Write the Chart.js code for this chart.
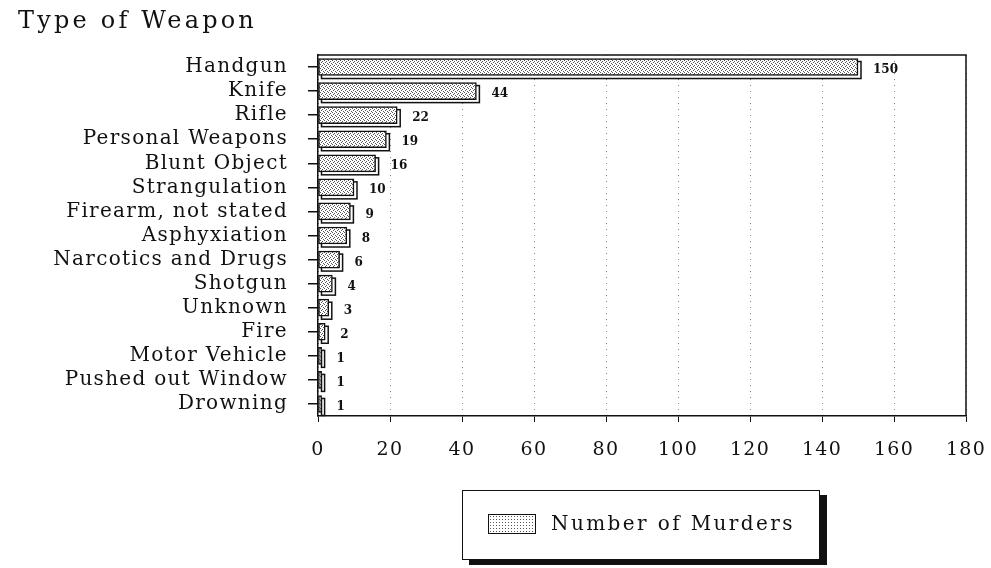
<!DOCTYPE html>
<html>
<head>
<meta charset="utf-8">
<script src="https://cdn.jsdelivr.net/npm/chart.js@4/dist/chart.umd.min.js"></script>
<style>
  html, body { margin: 0; padding: 0; background: #fff; }
  #wrap { position: relative; width: 991px; height: 568px; overflow: hidden; }
  #title {
    position: absolute; left: 18px; top: 6px;
    font: 24px "DejaVu Serif", serif; color: #111; letter-spacing: 3.2px;
  }
  #legend {
    position: absolute; left: 462px; top: 490px; width: 356px; height: 68px;
    border: 1.5px solid #111; background: #fff;
    box-shadow: 7px 5px 0 #111;
    font: 20px "DejaVu Serif", serif; color: #111; letter-spacing: 2.4px;
  }
  #legend .sw {
    position: absolute; left: 25px; top: 23px; width: 48px; height: 20px;
    border: 1.5px solid #111; box-sizing: border-box;
    background-color: #fff;
    background-image: radial-gradient(#555 0.8px, transparent 0.9px);
    background-size: 3px 3px;
  }
  #legend .tx { position: absolute; left: 88px; top: 20px; }
</style>
</head>
<body>
<div id="wrap">
  <canvas id="chart" width="991" height="568"></canvas>
  <div id="title">Type of Weapon</div>
  <div id="legend"><span class="sw"></span><span class="tx">Number of Murders</span></div>
</div>
<script>
"use strict";

const weapons = [
  "Handgun", "Knife", "Rifle", "Personal Weapons", "Blunt Object",
  "Strangulation", "Firearm, not stated", "Asphyxiation", "Narcotics and Drugs",
  "Shotgun", "Unknown", "Fire", "Motor Vehicle", "Pushed out Window", "Drowning",
];
const murders = [150, 44, 22, 19, 16, 10, 9, 8, 6, 4, 3, 2, 1, 1, 1];
const xTicks = [0, 20, 40, 60, 80, 100, 120, 140, 160, 180];

// stipple fill, like the old printer shading
function dotPattern() {
  const c = document.createElement("canvas");
  c.width = 4; c.height = 4;
  const g = c.getContext("2d");
  g.fillStyle = "#fff";
  g.fillRect(0, 0, 4, 4);
  g.fillStyle = "#555";
  [[0, 0], [2, 1], [1, 2], [3, 3]].forEach(([x, y]) => g.fillRect(x, y, 1, 1));
  return g.createPattern(c, "repeat");
}

const ctx = document.getElementById("chart").getContext("2d");

// wider type, closer to the typewriter-ish original
const spacing = {
  id: "spacing",
  beforeDraw(chart) { chart.ctx.letterSpacing = "1.3px"; },
};

// offset outline behind each bar for the 3-D look
const barShadow = {
  id: "barShadow",
  beforeDatasetsDraw(chart) {
    const c = chart.ctx;
    c.save();
    c.strokeStyle = "#111";
    c.lineWidth = 1.5;
    chart.getDatasetMeta(0).data.forEach((b) => {
      const top = b.y - b.height / 2;
      c.strokeRect(b.base + 3, top + 3, b.x - b.base, b.height);
    });
    c.restore();
  },
};

// value labels and top/right frame
const extras = {
  id: "extras",
  afterDatasetsDraw(chart) {
    const c = chart.ctx;
    const a = chart.chartArea;
    c.save();
    c.letterSpacing = "0px";
    c.strokeStyle = "#111";
    c.lineWidth = 1.5;
    c.beginPath();
    c.moveTo(a.left, a.top);
    c.lineTo(a.right, a.top);
    c.lineTo(a.right, a.bottom);
    c.stroke();
    c.fillStyle = "#111";
    c.font = "bold 12px 'DejaVu Serif', serif";
    c.textBaseline = "middle";
    chart.getDatasetMeta(0).data.forEach((b, i) => {
      c.fillText(String(murders[i]), b.x + 15, b.y + 3);
    });
    c.restore();
  },
};

new Chart(ctx, {
  type: "bar",
  data: {
    labels: weapons,
    datasets: [{
      label: "Number of Murders",
      data: murders,
      backgroundColor: dotPattern(),
      borderColor: "#111",
      borderWidth: 1.5,
      borderSkipped: false,
      barThickness: 17,
    }],
  },
  options: {
    indexAxis: "y",
    responsive: false,
    animation: false,
    layout: { padding: { left: 0, right: 25, top: 55, bottom: 112 } },
    plugins: { legend: { display: false }, tooltip: { enabled: false } },
    scales: {
      x: {
        min: 0, max: 180,
        afterBuildTicks: (s) => { s.ticks = xTicks.map((v) => ({ value: v })); },
        afterFit: (s) => { s.height = 40; s.paddingRight = 0; s.paddingLeft = 0; },
        ticks: { color: "#111", padding: 17, font: { family: "DejaVu Serif", size: 19 } },
        grid: { color: "#888", lineWidth: 1, drawTicks: true, tickLength: 6, tickColor: "#111" },
        border: { color: "#111", width: 1.5, dash: [1, 5] },
      },
      y: {
        afterFit: (s) => { s.width = 318; },
        ticks: { color: "#111", padding: 20, autoSkip: false, font: { family: "DejaVu Serif", size: 20 } },
        grid: { offset: false, drawOnChartArea: false, drawTicks: true, tickLength: 10, color: "#111", lineWidth: 1.5 },
        border: { color: "#111", width: 1.5 },
      },
    },
  },
  plugins: [spacing, barShadow, extras],
});
</script>
</body>
</html>
